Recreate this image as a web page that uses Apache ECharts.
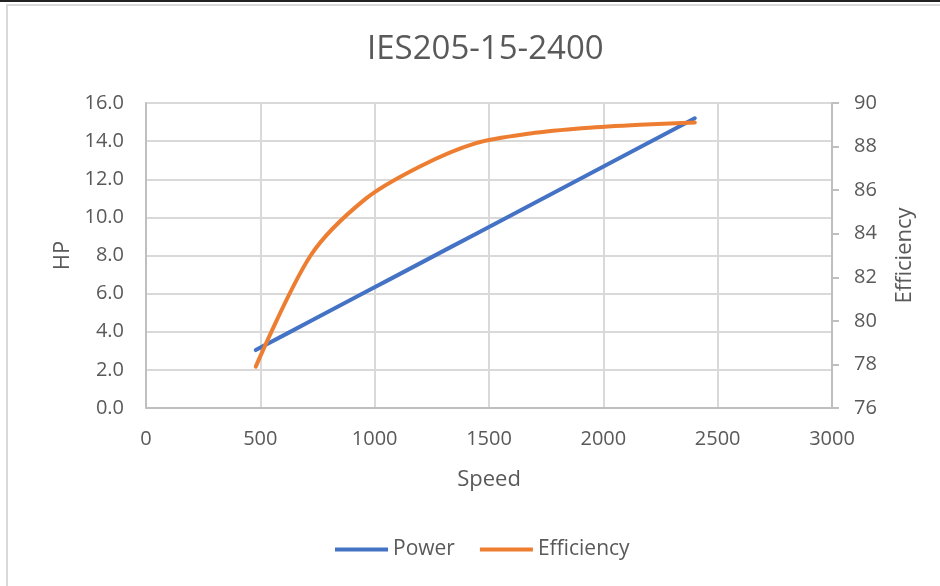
<!DOCTYPE html>
<html>
<head>
<meta charset="utf-8">
<script src="https://cdn.jsdelivr.net/npm/echarts@6/dist/echarts.min.js"></script>
<style>
html,body{margin:0;padding:0;background:#fff;}
#chart{width:940px;height:586px;}
</style>
</head>
<body>
<div id="chart"></div>
<script>
const titleText = 'IES205-15-2400';
const speed = [480, 720, 960, 1200, 1440, 1680, 1920, 2160, 2400];
const power = [3.04, 4.56, 6.08, 7.60, 9.12, 10.64, 12.16, 13.68, 15.20];
const efficiency = [77.9, 83.0, 85.6, 87.1, 88.15, 88.6, 88.85, 89.0, 89.1];
const xTicks = [0, 500, 1000, 1500, 2000, 2500, 3000];

const FONT = 'Open Sans';
const TXT = '#595959';

const chart = echarts.init(document.getElementById('chart'), null, {renderer: 'canvas'});
chart.setOption({
  backgroundColor: '#fff',
  animation: false,
  textStyle: {fontFamily: FONT, color: TXT},
  graphic: [
    {type: 'rect', shape: {x: 0, y: 0, width: 940, height: 2}, style: {fill: '#222'}},
    {type: 'rect', shape: {x: 7, y: 5, width: 960, height: 620}, style: {fill: 'none', stroke: '#D9D9D9', lineWidth: 2}}
  ],
  title: {
    text: titleText, left: 362, top: 28,
    textStyle: {fontFamily: FONT, fontSize: 33, fontWeight: 'normal', color: TXT}
  },
  legend: {
    bottom: 21, left: 330,
    itemWidth: 53, itemHeight: 4, itemGap: 25, icon: 'rect',
    textStyle: {fontFamily: FONT, fontSize: 21, color: TXT},
    data: ['Power', 'Efficiency']
  },
  grid: {left: 146, right: 108, top: 103, bottom: 178},
  xAxis: {
    type: 'value', min: xTicks[0], max: xTicks[xTicks.length - 1], interval: 500,
    name: 'Speed', nameLocation: 'middle', nameGap: 61,
    nameTextStyle: {fontFamily: FONT, fontSize: 22, color: TXT},
    axisLine: {show: true, lineStyle: {color: '#BFBFBF', width: 2}},
    axisTick: {show: false},
    axisLabel: {fontFamily: FONT, fontSize: 20, color: TXT, margin: 21,
      formatter: v => String(v)},
    splitLine: {show: true, lineStyle: {color: '#D9D9D9', width: 2}}
  },
  yAxis: [
    {
      type: 'value', min: 0, max: 16, interval: 2,
      name: 'HP', nameLocation: 'middle', nameGap: 72, nameRotate: 90,
      nameTextStyle: {fontFamily: FONT, fontSize: 22, color: TXT},
      axisLine: {show: true, lineStyle: {color: '#BFBFBF', width: 2}},
      axisTick: {show: false},
      axisLabel: {fontFamily: FONT, fontSize: 20, color: TXT, margin: 22,
        formatter: v => v.toFixed(1)},
      splitLine: {show: true, lineStyle: {color: '#D9D9D9', width: 2}}
    },
    {
      type: 'value', min: 76, max: 90, interval: 2, position: 'right',
      name: 'Efficiency', nameLocation: 'middle', nameGap: 62, nameRotate: 90,
      nameTextStyle: {fontFamily: FONT, fontSize: 22, color: TXT},
      axisLine: {show: true, lineStyle: {color: '#BFBFBF', width: 2}},
      axisTick: {show: true, inside: false, length: 7, lineStyle: {color: '#BFBFBF', width: 2}},
      axisLabel: {fontFamily: FONT, fontSize: 20, color: TXT, margin: 22},
      splitLine: {show: false}
    }
  ],
  series: [
    {
      name: 'Power', type: 'line', yAxisIndex: 0, smooth: 0.3, showSymbol: false,
      data: speed.map((s, i) => [s, power[i]]),
      lineStyle: {color: '#4472C4', width: 4, cap: 'round'},
      itemStyle: {color: '#4472C4'}
    },
    {
      name: 'Efficiency', type: 'line', yAxisIndex: 1, smooth: 0.3, showSymbol: false,
      data: speed.map((s, i) => [s, efficiency[i]]),
      lineStyle: {color: '#ED7D31', width: 4, cap: 'round'},
      itemStyle: {color: '#ED7D31'}
    }
  ]
});
</script>
</body>
</html>
